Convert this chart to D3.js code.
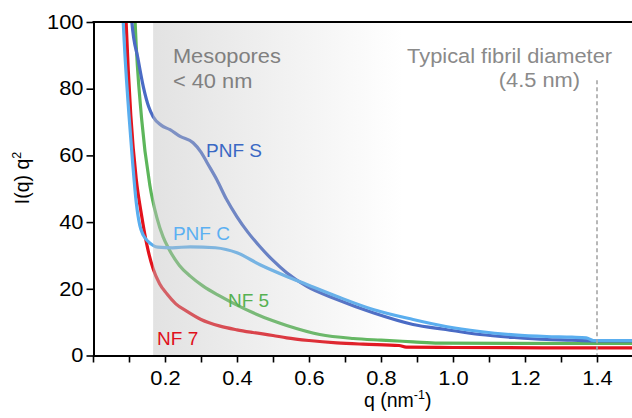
<!DOCTYPE html>
<html>
<head>
<meta charset="utf-8">
<script src="https://cdn.jsdelivr.net/npm/d3@7"></script>
<style>
  body { margin: 0; background: #fff; }
  svg text { font-family: "Liberation Sans", Arial, Helvetica, sans-serif; }
  .wide { transform-box: fill-box; transform: scaleX(1.12); }
  .wide-r { transform-origin: right center; }
  .wide-c { transform-origin: center; }
  .wide-l { transform-origin: left center; }
</style>
</head>
<body>
<svg id="chart" width="632" height="418"></svg>
<script>
// values: q (nm^-1) against I(q) q^2
const pnfSq = [0.098, 0.108, 0.125, 0.14, 0.155, 0.167, 0.19, 0.214, 0.242, 0.278, 0.3, 0.317, 0.344, 0.37, 0.4, 0.43, 0.464, 0.5, 0.538, 0.594, 0.678, 0.778, 0.889, 0.98, 1.075, 1.17, 1.26, 1.33, 1.38, 1.5]
const pnfSI = [118, 100, 89, 80.5, 74.5, 71.6, 69, 67.7, 65.7, 63.8, 61, 57.8, 52.7, 47, 41.6, 37, 32.6, 28.5, 24.8, 20.7, 16.8, 12.8, 9.3, 7.8, 6.3, 5.4, 4.8, 4.6, 4.4, 4.4]

const pnfCq = [0.076, 0.084, 0.1, 0.11, 0.12, 0.13, 0.14, 0.155, 0.18, 0.22, 0.27, 0.34, 0.4, 0.464, 0.538, 0.594, 0.678, 0.778, 0.889, 0.98, 1.075, 1.17, 1.26, 1.33, 1.37, 1.39, 1.5]
const pnfCI = [122, 100, 72, 58, 46, 39, 36, 34, 32.5, 32.3, 32.6, 32.3, 30.8, 27.2, 23.7, 21.3, 17.7, 13.8, 10.8, 8.7, 7.2, 6.2, 5.7, 5.5, 5.3, 4.5, 4.5]

const nf5q = [0.11, 0.117, 0.135, 0.158, 0.177, 0.195, 0.209, 0.24, 0.27, 0.306, 0.353, 0.4, 0.445, 0.5, 0.538, 0.63, 0.723, 0.8, 0.889, 0.96, 1.5]
const nf5I = [122, 100, 71, 51, 41.5, 35.5, 32.3, 27, 23.8, 20.8, 17.8, 15.1, 12.8, 10.4, 9, 6.3, 5.1, 4.6, 4.1, 3.7, 3.6]

const nf7q = [0.085, 0.092, 0.105, 0.12, 0.135, 0.15, 0.167, 0.185, 0.205, 0.23, 0.26, 0.3, 0.353, 0.4, 0.444, 0.5, 0.538, 0.6, 0.677, 0.75, 0.85, 0.87, 1.0, 1.25, 1.5]
const nf7I = [122, 100, 72, 53, 42, 33, 26, 21.5, 18.5, 15.5, 13.3, 10.8, 8.8, 7.7, 6.9, 6, 5.3, 4.5, 3.8, 3.4, 3.0, 2.5, 2.4, 2.3, 2.3]

const yTicks = [0, 20, 40, 60, 80, 100]
const xTicks = [0, 0.1, 0.2, 0.3, 0.4, 0.5, 0.6, 0.7, 0.8, 0.9, 1.0, 1.1, 1.2, 1.3, 1.4, 1.5]
const xLabelled = [0.2, 0.4, 0.6, 0.8, 1.0, 1.2, 1.4]

const mesoStart = 0.167 // start of the shaded mesopore band
const fibrilQ = 1.4 // typical fibril diameter marker

// draw order: red, green, dark blue, light blue on top
const series = [
  { name: 'NF 7', q: nf7q, I: nf7I, color: '#e3121c', label: '#e0101a', lq: 0.178, lI: 3.1 },
  { name: 'NF 5', q: nf5q, I: nf5I, color: '#5db65b', label: '#56b152', lq: 0.375, lI: 14.5 },
  { name: 'PNF S', q: pnfSq, I: pnfSI, color: '#4a6bc5', label: '#3a68c4', lq: 0.314, lI: 59.5 },
  { name: 'PNF C', q: pnfCq, I: pnfCI, color: '#5aaeef', label: '#5cb0f2', lq: 0.222, lI: 34.6 }
]

const svg = d3.select('#chart')
const plotLeft = 93.5
const plotRight = 633
const plotTop = 22
const plotBottom = 355.5

const x = d3.scaleLinear().domain([0, 1.5]).range([93, 633])
const y = d3.scaleLinear().domain([0, 100]).range([plotBottom, plotTop])

// clip for the curves
const defs = svg.append('defs')
defs.append('clipPath').attr('id', 'plot')
  .append('rect')
  .attr('x', plotLeft).attr('y', plotTop)
  .attr('width', plotRight - plotLeft).attr('height', plotBottom - plotTop)

const grad = defs.append('linearGradient')
  .attr('id', 'meso')
  .attr('gradientUnits', 'userSpaceOnUse')
  .attr('x1', x(mesoStart)).attr('x2', x(0.86))
  .attr('y1', 0).attr('y2', 0)
grad.append('stop').attr('offset', 0).attr('stop-color', '#c2c2c2').attr('stop-opacity', 0.47)
grad.append('stop').attr('offset', 1).attr('stop-color', '#c2c2c2').attr('stop-opacity', 0)

const line = d3.line()
  .x(d => x(d[0]))
  .y(d => y(d[1]))
  .curve(d3.curveMonotoneX)

const curves = svg.append('g').attr('clip-path', 'url(#plot)')
series.forEach(s => {
  curves.append('path')
    .datum(s.q.map((q, i) => [q, s.I[i]]))
    .attr('d', line)
    .attr('fill', 'none')
    .attr('stroke', s.color)
    .attr('stroke-width', 3.2)
    .attr('stroke-linejoin', 'round')
})

// shaded band goes over the curves, which is why they look faded inside it
svg.append('rect')
  .attr('x', x(mesoStart))
  .attr('y', plotTop + 1)
  .attr('width', plotRight - x(mesoStart))
  .attr('height', plotBottom - plotTop - 1)
  .attr('fill', 'url(#meso)')

// fibril marker
svg.append('line')
  .attr('x1', x(fibrilQ)).attr('x2', x(fibrilQ))
  .attr('y1', y(82.5)).attr('y2', plotBottom)
  .attr('stroke', '#a6a6a6')
  .attr('stroke-width', 1.6)
  .attr('stroke-dasharray', '4,3')

// axes
const yAxis = svg.append('g')
  .attr('transform', 'translate(' + plotLeft + ',0)')
  .call(d3.axisLeft(y).tickValues(yTicks).tickSize(7).tickSizeOuter(0).tickPadding(3))
const xAxis = svg.append('g')
  .attr('transform', 'translate(0,' + plotBottom + ')')
  .call(d3.axisBottom(x).tickValues(xTicks).tickSize(7).tickSizeOuter(0).tickPadding(9)
    .tickFormat(d => xLabelled.some(v => Math.abs(v - d) < 1e-9) ? d3.format('.1f')(d) : ''))

;[yAxis, xAxis].forEach(g => {
  g.select('.domain').attr('stroke', '#000').attr('stroke-width', 2)
  g.selectAll('.tick line').attr('stroke', '#000').attr('stroke-width', 1.6)
  g.selectAll('.tick text').attr('font-size', 19.5).attr('fill', '#000')
    .attr('font-family', '"Liberation Sans", Arial, sans-serif')
})
yAxis.selectAll('.tick text').attr('class', 'wide wide-r')
xAxis.selectAll('.tick text').attr('class', 'wide wide-c')

// top frame line
svg.append('line')
  .attr('x1', plotLeft - 1).attr('x2', plotRight)
  .attr('y1', plotTop).attr('y2', plotTop)
  .attr('stroke', '#000').attr('stroke-width', 2)

// axis titles
const yt = svg.append('text')
  .attr('transform', 'translate(29,178) rotate(-90)')
  .attr('text-anchor', 'middle')
  .attr('font-size', 19.5)
yt.append('tspan').text('I(q) q')
yt.append('tspan').attr('font-size', 12.5).attr('dy', -8).text('2')

const xt = svg.append('text')
  .attr('x', 364).attr('y', 407)
  .attr('font-size', 19.5)
xt.append('tspan').text('q (nm')
xt.append('tspan').attr('font-size', 12.5).attr('dy', -8).text('-1')
xt.append('tspan').attr('dy', 8).text(')')

// annotations
const grey = '#808080'
svg.append('text').attr('x', x(0.222)).attr('y', 63)
  .attr('font-size', 19.5).attr('fill', grey).attr('class', 'wide wide-l').text('Mesopores')
svg.append('text').attr('x', x(0.222)).attr('y', 88)
  .attr('font-size', 19.5).attr('fill', grey).attr('class', 'wide wide-l').text('< 40 nm')
svg.append('text').attr('x', x(1.442)).attr('y', 63).attr('text-anchor', 'end')
  .attr('font-size', 19.5).attr('fill', '#8a8a8a').attr('class', 'wide wide-r').text('Typical fibril diameter')
svg.append('text').attr('x', x(1.353)).attr('y', 87).attr('text-anchor', 'end')
  .attr('font-size', 19.5).attr('fill', '#8a8a8a').attr('class', 'wide wide-r').text('(4.5 nm)')

// curve labels
series.forEach(s => {
  svg.append('text')
    .attr('x', x(s.lq)).attr('y', y(s.lI))
    .attr('font-size', 19)
    .attr('fill', s.label)
    .text(s.name)
})
</script>
</body>
</html>
